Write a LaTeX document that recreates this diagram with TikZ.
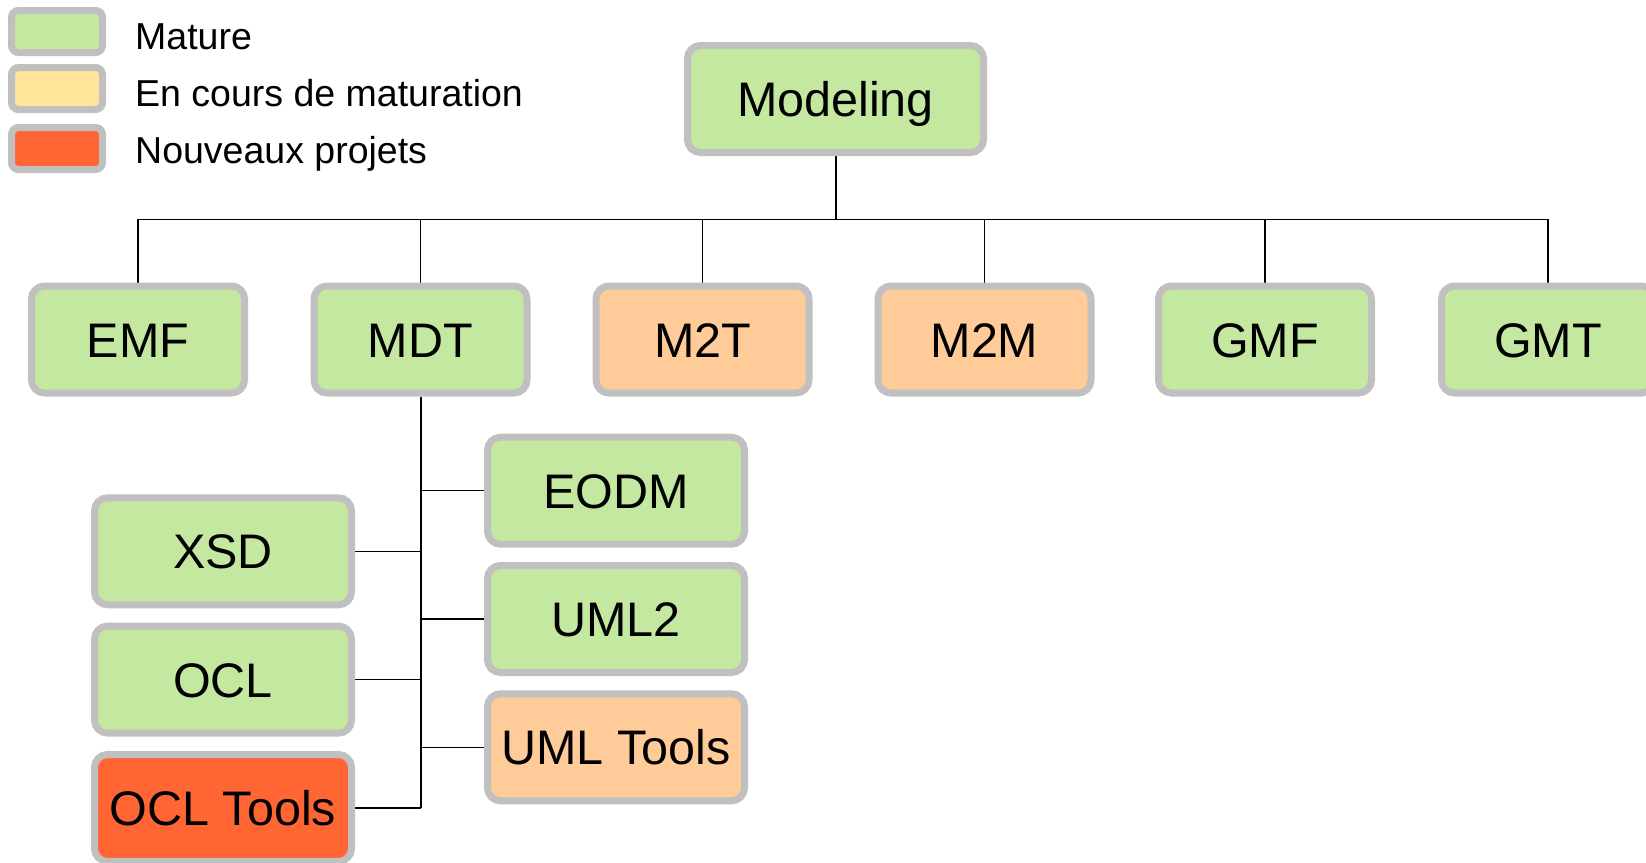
\documentclass[tikz,border=0pt]{standalone}
\usepackage{fontspec}
\setmainfont{Liberation Sans}
\usetikzlibrary{backgrounds}
\definecolor{mature}{HTML}{C5E8A0}
\definecolor{peach}{HTML}{FFCC99}
\definecolor{legyellow}{HTML}{FFE499}
\definecolor{newred}{HTML}{FF6633}
\definecolor{bordergray}{HTML}{C0C0C0}
\begin{document}
\begin{tikzpicture}[x=1pt,y=-1pt,
  box/.style={rectangle, rounded corners=13pt, draw=bordergray, line width=7pt, inner sep=0pt,
    font=\fontsize{48.5}{58}\selectfont, text height=35pt, text depth=0pt},
  lvl/.style={box, minimum width=213pt, minimum height=107pt},
  kid/.style={box, minimum width=257pt, minimum height=107pt},
  legbox/.style={rectangle, rounded corners=7pt, draw=bordergray, line width=7pt,
    minimum width=91pt, minimum height=42pt, inner sep=0pt},
  legtext/.style={anchor=base west, font=\fontsize{37.5}{45}\selectfont, inner sep=0pt},
  conn/.style={line width=1.3pt, draw=black},
  trunk/.style={line width=2pt, draw=black}]
\useasboundingbox (0,0) rectangle (1646,862);
\clip (0,0) rectangle (1646,862);

% legend
\node[legbox, fill=mature] (l1) at (57,31.5) {};
\node[legbox, fill=legyellow] (l2) at (57,88.5) {};
\node[legbox, fill=newred] (l3) at (57,148.5) {};
\node[legtext] (t1) at (135,49.5) {Mature};
\node[legtext] (t2) at (135,106) {En cours de maturation};
\node[legtext] (t3) at (135,163) {Nouveaux projets};

% root
\node[box, fill=mature, minimum width=296pt, minimum height=107pt] (model) at (835.5,99) {Modeling};

% level 1
\node[lvl, fill=mature] (emf) at (138,339.5) {EMF};
\node[lvl, fill=mature] (mdt) at (420.5,339.5) {MDT};
\node[lvl, fill=peach] (m2t) at (702.5,339.5) {M2T};
\node[lvl, fill=peach] (m2m) at (984.5,339.5) {M2M};
\node[lvl, fill=mature] (gmf) at (1265,339.5) {GMF};
\node[lvl, fill=mature] (gmt) at (1548,339.5) {GMT};

% MDT children
\node[kid, fill=mature] (eodm) at (616,490.7) {EODM};
\node[kid, fill=mature] (uml) at (616,619) {UML2};
\node[kid, fill=peach] (umlt) at (616,747.3) {UML Tools};
\node[kid, fill=mature] (xsd) at (223,551.3) {XSD};
\node[kid, fill=mature] (ocl) at (223,679.6) {OCL};
\node[kid, fill=newred] (oclt) at (223,808) {OCL Tools};

\begin{scope}[on background layer]
  \fill[white] (0,0) rectangle (1646,862);
  \coordinate (bar) at (835.5,219.3);
  \draw[trunk] (model.south) -- (model.south |- bar);
  \draw[conn] (emf.north |- bar) -- (gmt.north |- bar);
  \foreach \n in {emf,mdt,m2t,m2m,gmf,gmt} {
    \draw[conn] (\n.north) -- (\n.north |- bar);
  }
  \draw[trunk] (mdt.south) -- (mdt.south |- oclt.east);
  \foreach \n in {xsd,ocl,oclt,eodm,uml,umlt} {
    \draw[conn] (\n) -- (\n -| mdt.south);
  }
\end{scope}
\end{tikzpicture}
\end{document}
